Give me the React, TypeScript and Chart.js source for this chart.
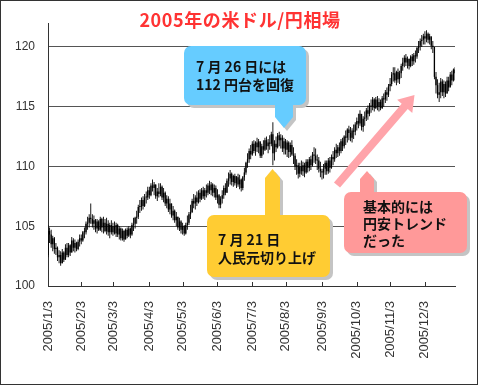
import { useEffect, useRef } from 'react';
import { Chart, registerables } from 'chart.js';

Chart.register(...registerables);

// Daily USD/JPY 2005 — each day is [high, low, close]; open = previous close
const firstOpen = 102.6;
const jan: number[][] = [
  [105.1, 102.4, 104.6], [104.9, 103.6, 104.3], [104.7, 103.2, 103.5], [104.2, 102.9, 104.0], [104.1, 102.7, 103.1],
  [103.6, 102.6, 103.2], [103.3, 102.1, 102.4], [103.0, 101.9, 102.6], [102.9, 101.7, 101.9], [103.1, 101.9, 102.8],
  [102.9, 102.0, 102.2], [103.5, 102.2, 103.2], [103.6, 102.4, 102.6], [103.6, 102.4, 103.4], [103.5, 102.5, 102.8],
  [104.1, 102.8, 103.8], [104.0, 102.9, 103.2], [103.9, 102.8, 103.6], [103.7, 102.9, 103.1], [103.9, 103.0, 103.7],
  [104.3, 103.3, 104.0],
];
const feb: number[][] = [
  [104.3, 103.5, 103.8], [104.6, 103.7, 104.5], [104.9, 104.0, 104.5], [105.4, 104.3, 105.2], [105.8, 104.7, 105.3],
  [106.0, 104.9, 105.7], [106.9, 105.2, 105.6], [106.0, 104.9, 105.2], [105.9, 104.7, 105.5], [105.6, 104.5, 104.8],
  [105.6, 104.4, 105.4], [105.5, 104.6, 104.7], [105.8, 104.6, 105.6], [105.7, 104.5, 104.9], [105.8, 104.4, 105.3],
  [105.6, 104.5, 104.6], [105.7, 104.3, 105.2], [105.5, 104.2, 104.5], [105.3, 104.0, 105.1], [105.5, 104.3, 104.5],
];
const mar: number[][] = [
  [105.3, 104.2, 105.0], [105.4, 104.3, 104.4], [105.3, 104.1, 105.1], [105.2, 104.1, 104.3], [105.0, 103.9, 104.8],
  [104.9, 103.8, 104.0], [104.8, 103.8, 104.6], [104.7, 103.7, 103.9], [104.8, 103.9, 104.7], [104.9, 104.0, 104.2],
  [105.0, 104.1, 104.8], [104.9, 104.0, 104.3], [105.3, 104.2, 105.1], [105.7, 104.6, 105.2], [105.8, 104.8, 105.7],
  [106.3, 105.2, 105.8], [106.8, 105.6, 106.6], [107.2, 106.1, 106.6], [107.4, 106.3, 107.2], [107.5, 106.4, 106.7],
  [107.7, 106.6, 107.4], [107.9, 106.9, 107.4], [108.3, 107.2, 108.0],
];
const apr: number[][] = [
  [108.3, 107.3, 107.6], [108.6, 107.5, 108.4], [108.9, 107.9, 108.2], [108.7, 107.6, 108.5], [108.5, 107.3, 107.5],
  [108.2, 107.1, 107.9], [108.6, 107.4, 107.7], [108.6, 107.5, 108.3], [108.4, 107.2, 107.4], [108.2, 107.0, 107.8],
  [107.9, 106.7, 106.9], [107.6, 106.5, 107.3], [107.5, 106.2, 106.4], [107.3, 106.0, 106.9], [106.9, 105.7, 105.9],
  [106.7, 105.5, 106.3], [106.4, 105.3, 105.5], [106.2, 105.0, 105.8], [105.8, 104.7, 104.9], [105.7, 104.6, 105.4],
  [105.5, 104.4, 104.7],
];
const may: number[][] = [
  [105.3, 104.3, 105.0], [105.1, 104.2, 104.4], [105.3, 104.3, 105.1], [105.9, 104.7, 105.3], [106.2, 105.1, 106.0],
  [106.8, 105.6, 106.2], [107.3, 106.1, 107.1], [107.7, 106.5, 106.9], [107.6, 106.4, 107.4], [107.9, 106.7, 107.0],
  [108.0, 106.9, 107.8], [108.1, 107.0, 107.3], [108.2, 107.2, 108.0], [108.3, 107.3, 107.5], [108.2, 107.2, 108.0],
  [108.5, 107.4, 107.8], [108.6, 107.6, 108.4], [108.8, 107.7, 108.0], [108.7, 107.6, 108.5], [108.6, 107.5, 107.8],
  [108.5, 107.4, 108.2], [108.4, 107.2, 107.4],
];
const jun: number[][] = [
  [108.1, 106.9, 107.6], [107.7, 106.5, 106.8], [107.5, 106.5, 107.3], [108.0, 106.9, 107.6], [108.4, 107.3, 108.2],
  [108.6, 107.6, 107.8], [109.0, 107.8, 108.8], [109.5, 108.3, 109.0], [109.7, 108.5, 109.4], [109.5, 108.4, 108.7],
  [109.3, 108.3, 109.2], [109.4, 108.4, 108.6], [109.2, 108.2, 109.1], [109.4, 108.3, 108.5], [109.3, 108.1, 108.9],
  [109.0, 107.9, 108.2], [109.2, 108.0, 109.1], [109.9, 108.8, 109.5], [110.4, 109.3, 110.3], [111.1, 109.9, 110.6],
  [111.5, 110.3, 111.3], [111.8, 110.6, 111.0],
];
const jul: number[][] = [
  [112.1, 110.9, 111.9], [112.2, 111.1, 111.3], [112.1, 110.9, 112.0], [112.4, 111.2, 111.6], [112.3, 111.1, 112.1],
  [112.0, 110.7, 110.9], [111.9, 110.7, 111.7], [112.2, 111.0, 111.4], [112.4, 111.3, 112.2], [112.5, 111.4, 111.7],
  [112.3, 111.1, 112.0], [112.6, 111.4, 111.9], [112.9, 111.7, 112.7], [113.7, 110.1, 111.1], [112.2, 110.5, 111.9],
  [112.5, 111.2, 111.6], [112.8, 111.5, 112.6], [112.9, 111.7, 112.2], [112.7, 111.5, 112.4], [112.6, 111.2, 111.5],
  [112.4, 111.0, 112.1],
];
const aug: number[][] = [
  [112.3, 111.0, 111.4], [112.2, 110.8, 112.0], [112.1, 110.7, 111.2], [112.0, 110.8, 111.8], [112.2, 110.9, 111.0],
  [111.6, 110.2, 110.9], [111.1, 109.7, 110.0], [110.6, 109.3, 110.1], [110.3, 109.0, 109.4], [110.3, 109.1, 110.0],
  [110.5, 109.3, 109.6], [110.4, 109.2, 110.1], [110.3, 109.1, 109.5], [110.6, 109.4, 110.4], [110.6, 109.5, 109.9],
  [110.8, 109.6, 110.6], [110.9, 109.7, 110.1], [111.2, 110.0, 111.0], [111.6, 110.3, 110.9], [111.5, 110.2, 110.5],
  [111.0, 109.7, 110.5], [110.8, 109.5, 109.8], [110.4, 109.1, 109.6],
];
const sep: number[][] = [
  [109.8, 108.9, 109.5], [110.2, 109.0, 109.8], [110.5, 109.3, 110.3], [110.5, 109.3, 109.6], [110.7, 109.4, 110.5],
  [110.8, 109.5, 109.9], [111.0, 109.8, 110.8], [111.3, 110.1, 110.6], [111.6, 110.4, 111.4], [111.9, 110.7, 111.1],
  [111.8, 110.8, 111.6], [112.0, 110.9, 111.3], [112.3, 111.1, 112.1], [112.4, 111.3, 111.7], [112.6, 111.5, 112.5],
  [113.0, 111.8, 112.4], [113.2, 112.0, 113.1], [113.4, 112.2, 112.8], [113.3, 112.1, 112.4], [113.2, 112.0, 113.0],
  [113.5, 112.3, 112.9], [113.7, 112.6, 113.5],
];
const oct: number[][] = [
  [114.1, 113.0, 113.8], [114.4, 113.2, 113.6], [114.7, 113.4, 114.4], [114.3, 113.0, 113.3], [114.2, 112.9, 114.0],
  [114.6, 113.4, 114.1], [114.9, 113.8, 114.7], [115.1, 113.9, 114.4], [115.3, 114.2, 115.1], [115.6, 114.5, 115.0],
  [115.8, 114.7, 115.6], [115.7, 114.6, 114.9], [115.8, 114.8, 115.6], [115.9, 114.7, 115.0], [115.7, 114.6, 115.4],
  [115.6, 114.7, 114.9], [115.9, 114.8, 115.7], [116.1, 115.0, 115.6], [116.4, 115.3, 116.2], [116.6, 115.5, 116.0],
  [116.9, 115.8, 116.7],
];
const nov: number[][] = [
  [117.4, 116.3, 116.9], [117.9, 116.7, 117.7], [118.3, 117.1, 117.8], [118.3, 117.0, 117.2], [118.0, 116.8, 117.9],
  [118.2, 117.0, 117.3], [118.0, 116.9, 117.8], [118.6, 117.4, 118.4], [119.1, 118.0, 118.7], [119.3, 118.3, 119.1],
  [119.4, 118.4, 118.7], [119.2, 118.2, 119.0], [119.0, 118.1, 118.4], [119.3, 118.3, 119.2], [119.4, 118.4, 118.8],
  [119.5, 118.5, 119.3], [119.7, 118.7, 119.2], [120.0, 119.0, 119.9], [120.5, 119.5, 120.1], [120.7, 119.7, 120.5],
  [121.0, 120.0, 120.6], [121.1, 120.2, 120.9],
];
const dec: number[][] = [
  [121.3, 120.2, 120.7], [121.4, 120.4, 121.1], [121.2, 120.3, 120.6], [121.1, 120.2, 120.9], [120.8, 119.8, 120.1],
  [120.5, 119.5, 120.0], [120.0, 117.3, 117.5], [117.9, 116.1, 116.8], [117.3, 115.7, 116.0], [117.0, 115.4, 116.2],
  [117.4, 115.7, 117.1], [117.3, 115.9, 116.2], [117.2, 115.7, 116.9], [117.1, 115.8, 116.1], [117.5, 116.1, 117.2],
  [117.5, 116.3, 116.6], [117.9, 116.7, 117.7], [118.0, 116.8, 117.2], [118.2, 117.1, 118.1], [118.3, 117.2, 117.8],
];

// First trading day index of each month, and its tick label
const monthStarts = [0, 21, 41, 64, 85, 107, 129, 150, 173, 195, 216, 238];
const monthLabels = [
  '2005/1/3', '2005/2/3', '2005/3/3', '2005/4/3', '2005/5/3', '2005/6/3',
  '2005/7/3', '2005/8/3', '2005/9/3', '2005/10/3', '2005/11/3', '2005/12/3',
];
const yTicks = [100, 105, 110, 115, 120];

const title = '2005年の米ドル/円相場';
const noteBlue = ['7 月 26 日には', '112 円台を回復'];
const noteYellow = ['7 月 21 日', '人民元切り上げ'];
const notePink = ['基本的には', '円安トレンド', 'だった'];

const JP = '"Noto Sans CJK JP", "Noto Sans", sans-serif';
const LAT = '"Liberation Sans", Arial, sans-serif';

type Pt = [number, number];

function drawCallout(ctx: CanvasRenderingContext2D, rect: [number, number, number, number], pointer: Pt[], color: string) {
  const [x, y, w, h] = rect;
  const shape = (dx: number, dy: number) => {
    ctx.beginPath();
    ctx.roundRect(x + dx, y + dy, w, h, 7);
    ctx.fill();
    ctx.beginPath();
    pointer.forEach(([px, py], i) => (i ? ctx.lineTo(px + dx, py + dy) : ctx.moveTo(px + dx, py + dy)));
    ctx.closePath();
    ctx.fill();
  };
  ctx.fillStyle = '#c4c4c4';
  shape(3, 3);
  ctx.fillStyle = color;
  shape(0, 0);
}

function drawLines(ctx: CanvasRenderingContext2D, lines: string[], x: number, y0: number, step: number) {
  ctx.save();
  ctx.fillStyle = '#111';
  ctx.font = `bold 14px ${JP}`;
  ctx.textAlign = 'left';
  ctx.textBaseline = 'middle';
  lines.forEach((t, i) => ctx.fillText(t, x, y0 + i * step));
  ctx.restore();
}

const decorations = {
  id: 'decorations',
  beforeDraw(chart: any) {
    const { ctx, width, height } = chart;
    ctx.save();
    ctx.fillStyle = '#fff';
    ctx.fillRect(0, 0, width, height);
    ctx.restore();
  },
  afterDatasetsDraw(chart: any) {
    const { ctx, scales, chartArea } = chart;
    const xs = scales.x;
    ctx.save();
    // month tick marks pointing up from the axis
    ctx.strokeStyle = '#333';
    ctx.lineWidth = 1;
    monthStarts.forEach((v) => {
      const px = Math.round(xs.getPixelForValue(v)) + 0.5;
      ctx.beginPath();
      ctx.moveTo(px, chartArea.bottom - 4);
      ctx.lineTo(px, chartArea.bottom);
      ctx.stroke();
    });

    // pink trend arrow
    const s: Pt = [337, 185];
    const tip: Pt = [414.5, 95];
    const dx = tip[0] - s[0], dy = tip[1] - s[1];
    const len = Math.hypot(dx, dy);
    const ux = dx / len, uy = dy / len;
    const nx = -uy, ny = ux;
    const bx = tip[0] - ux * 15, by = tip[1] - uy * 15;
    ctx.fillStyle = '#ffa4aa';
    ctx.beginPath();
    ctx.moveTo(s[0] + nx * 4, s[1] + ny * 4);
    ctx.lineTo(bx + nx * 4, by + ny * 4);
    ctx.lineTo(bx + nx * 10, by + ny * 10);
    ctx.lineTo(tip[0], tip[1]);
    ctx.lineTo(bx - nx * 10, by - ny * 10);
    ctx.lineTo(bx - nx * 4, by - ny * 4);
    ctx.lineTo(s[0] - nx * 4, s[1] - ny * 4);
    ctx.closePath();
    ctx.fill();

    // callouts
    drawCallout(ctx, [184, 46, 122, 59], [[275, 100], [275, 117], [284, 128], [293, 117], [293, 100]], '#66ccff');
    drawLines(ctx, noteBlue, 196, 67, 18);
    drawCallout(ctx, [207, 215, 123, 62], [[265, 220], [265, 178], [272.5, 169], [280, 178], [280, 220]], '#ffcc33');
    drawLines(ctx, noteYellow, 218, 240, 18);
    drawCallout(ctx, [344, 192, 123, 61], [[360, 196], [360, 179], [367, 171], [374, 179], [374, 196]], '#ff9999');
    drawLines(ctx, notePink, 363, 207, 17);
    ctx.restore();
  },
  afterDraw(chart: any) {
    const { ctx, width, height } = chart;
    ctx.save();
    ctx.fillStyle = '#ff3333';
    ctx.font = `bold 18px ${JP}`;
    (ctx as any).letterSpacing = '0.6px';
    ctx.textAlign = 'center';
    ctx.textBaseline = 'middle';
    ctx.fillText(title, 240, 20);
    (ctx as any).letterSpacing = '0px';
    ctx.strokeStyle = '#333';
    ctx.lineWidth = 1;
    ctx.strokeRect(0.5, 0.5, width - 1, height - 1);
    ctx.restore();
  },
};

export default function App() {
  const ref = useRef<HTMLCanvasElement>(null);
  useEffect(() => {
    const days = [...jan, ...feb, ...mar, ...apr, ...may, ...jun, ...jul, ...aug, ...sep, ...oct, ...nov, ...dec];
    const wicks = days.map(([h, l], i) => ({ x: i, y: [l, h] }));
    const bodies = days.map(([, , c], i) => ({ x: i, y: [i === 0 ? firstOpen : days[i - 1][2], c] }));
    const chart = new Chart(ref.current as HTMLCanvasElement, {
      type: 'bar',
      data: {
        datasets: [
          { data: wicks as any, backgroundColor: '#000', barThickness: 0.9, grouped: false, inflateAmount: 0 } as any,
          { data: bodies as any, backgroundColor: '#000', barThickness: 1.3, minBarLength: 1, grouped: false, inflateAmount: 0 } as any,
        ],
      },
      options: {
        animation: false,
        responsive: false,
        maintainAspectRatio: false,
        layout: { padding: { left: 0, right: 23, top: 23, bottom: 0 } },
        plugins: { legend: { display: false }, tooltip: { enabled: false }, title: { display: false } },
        scales: {
          x: {
            type: 'linear',
            min: 0,
            max: days.length - 1,
            offset: false,
            afterBuildTicks: (s: any) => {
              s.ticks = monthStarts.map((v) => ({ value: v }));
            },
            afterFit: (s: any) => {
              s.height = 99;
            },
            grid: { display: false, drawTicks: false },
            border: { display: true, color: '#333' },
            ticks: {
              autoSkip: false,
              minRotation: 90,
              maxRotation: 90,
              padding: 15,
              color: '#333',
              font: { family: LAT, size: 13 },
              callback: (v: any) => {
                const k = monthStarts.indexOf(Number(v));
                return k >= 0 ? monthLabels[k] : '';
              },
            },
          },
          y: {
            min: 100,
            max: 122,
            afterBuildTicks: (s: any) => {
              s.ticks = yTicks.map((v) => ({ value: v }));
            },
            afterFit: (s: any) => {
              s.width = 48;
            },
            grid: { color: '#555', drawTicks: false },
            border: { display: true, color: '#333' },
            ticks: { padding: 13, color: '#333', font: { family: LAT, size: 12 } },
          },
        },
      } as any,
      plugins: [decorations],
    });
    return () => chart.destroy();
  }, []);
  return (
    <div style={{ position: 'fixed', left: 0, top: 0, width: 478, height: 385, background: '#fff' }}>
      <canvas ref={ref} width={478} height={385} style={{ display: 'block', width: 478, height: 385 }} />
    </div>
  );
}
